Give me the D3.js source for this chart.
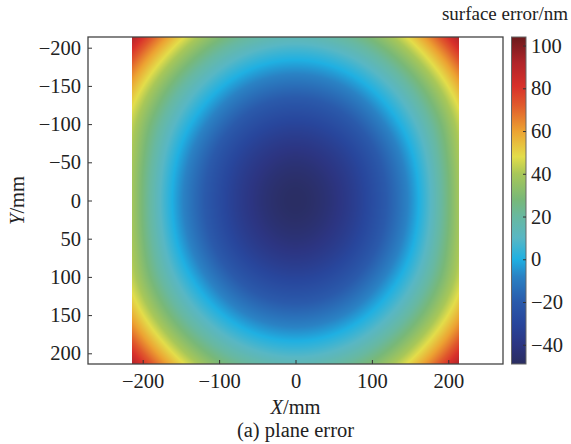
<!DOCTYPE html>
<html>
<head>
<meta charset="utf-8">
<script src="https://cdn.jsdelivr.net/npm/d3@7"></script>
<style>
  body { margin: 0; background: #fff; }
  text { font-family: "Liberation Serif", "Times New Roman", serif; fill: #222; }
</style>
</head>
<body>
<div id="chart"></div>
<script>
// sizes
var chart_width = 571;
var chart_height = 444;

var gridX = [-214, -160.5, -107, -53.5, 0, 53.5, 107, 160.5, 214];
var gridY = [-214, -160.5, -107, -53.5, 0, 53.5, 107, 160.5, 214];
// surface error at the grid points (nm), rows follow gridY
var surface = [
  [92, 56, 32, 19, 14.5, 19, 32, 56, 92],
  [62, 30, 8, -5.5, -10, -5.5, 8, 30, 62],
  [45, 13, -9.5, -24, -29, -24, -9.5, 13, 45],
  [40, 3, -21, -36.5, -42.5, -36.5, -21, 3, 40],
  [39, -0.5, -24.5, -41, -48, -41, -24.5, -0.5, 39],
  [40, 3, -21, -36.5, -42.5, -36.5, -21, 3, 40],
  [45, 13, -9.5, -24, -29, -24, -9.5, 13, 45],
  [62, 30, 8, -5.5, -10, -5.5, 8, 30, 62],
  [92, 56, 32, 19, 14.5, 19, 32, 56, 92]
];

var xTicks = [-200, -100, 0, 100, 200];
var yTicks = [-200, -150, -100, -50, 0, 50, 100, 150, 200];
var cbTicks = [-40, -20, 0, 20, 40, 60, 80, 100];
var cbRange = [-49, 104];

// colormap stops (value -> colour)
var cmapValues = [-49, -40, -30, -20, -8, 0, 10, 20, 28, 40, 48, 60, 72, 81, 92, 104];
var cmapColors = ['#2a2d60', '#2c3582', '#28469c', '#2a5aab', '#2a82c4', '#1fb0e2', '#58b7c4', '#68b8a0',
                  '#78b878', '#a8c758', '#e3dd4a', '#eca232', '#e05a2c', '#d8302a', '#b0252a', '#6b1a1c'];

var color = d3.scaleLinear().domain(cmapValues).range(cmapColors).clamp(true);

// plot box
var box = {left: 88, right: 503, top: 37, bottom: 364};
var half_y = 214;
var half_x = half_y * (box.right - box.left) / (box.bottom - box.top);

var x = d3.scaleLinear().domain([-half_x, half_x]).range([box.left, box.right]);
var y = d3.scaleLinear().domain([-half_y, half_y]).range([box.top, box.bottom]);

var svg = d3.select('#chart')
            .append('svg')
            .attr('width', chart_width)
            .attr('height', chart_height);

svg.append('rect')
   .attr('width', chart_width)
   .attr('height', chart_height)
   .attr('fill', '#fff');

// smooth (catmull-rom) lookup between the read points
function interp1(arr, u){
    var n = arr.length;
    function at(k){
        if(k < 0) return 3 * arr[0] - 3 * arr[1] + arr[2];
        if(k > n - 1) return 3 * arr[n - 1] - 3 * arr[n - 2] + arr[n - 3];
        return arr[k];
    }
    var i = Math.max(0, Math.min(n - 2, Math.floor(u)));
    var t = u - i;
    var p0 = at(i - 1), p1 = at(i), p2 = at(i + 1), p3 = at(i + 2);
    return 0.5 * ((2 * p1) + (-p0 + p2) * t + (2 * p0 - 5 * p1 + 4 * p2 - p3) * t * t +
                  (-p0 + 3 * p1 - 3 * p2 + p3) * t * t * t);
}

var gx = d3.scaleLinear().domain([gridX[0], gridX[gridX.length - 1]]).range([0, gridX.length - 1]);
var gy = d3.scaleLinear().domain([gridY[0], gridY[gridY.length - 1]]).range([0, gridY.length - 1]);

function valueAt(X, Y){
    var u = gx(X);
    var col = surface.map(function(row){ return interp1(row, u); });
    return interp1(col, gy(Y));
}

// draw the surface to a canvas and put it in the svg
var x0 = x(gridX[0]), x1 = x(gridX[gridX.length - 1]);
var y0 = y(gridY[0]), y1 = y(gridY[gridY.length - 1]);
var img_w = Math.round(x1 - x0), img_h = Math.round(y1 - y0);
var canvas = document.createElement('canvas');
canvas.width = img_w;
canvas.height = img_h;
var ctx = canvas.getContext('2d');
var imgData = ctx.createImageData(img_w, img_h);
for(var py = 0; py < img_h; py++){
    var Y = y.invert(y0 + py + 0.5);
    for(var px = 0; px < img_w; px++){
        var X = x.invert(x0 + px + 0.5);
        var c = d3.rgb(color(valueAt(X, Y)));
        var k = (py * img_w + px) * 4;
        imgData.data[k] = c.r;
        imgData.data[k + 1] = c.g;
        imgData.data[k + 2] = c.b;
        imgData.data[k + 3] = 255;
    }
}
ctx.putImageData(imgData, 0, 0);

svg.append('image')
   .attr('x', x0)
   .attr('y', y0)
   .attr('width', img_w)
   .attr('height', img_h)
   .attr('preserveAspectRatio', 'none')
   .attr('href', canvas.toDataURL());

// axes
var xAxis = d3.axisBottom(x).tickValues(xTicks).tickSizeInner(-4).tickSizeOuter(0).tickPadding(9);
var yAxis = d3.axisLeft(y).tickValues(yTicks).tickSizeInner(-4).tickSizeOuter(0).tickPadding(7);

var gX = svg.append('g').attr('transform', 'translate(0,' + box.bottom + ')').call(xAxis);
var gY = svg.append('g').attr('transform', 'translate(' + box.left + ',0)').call(yAxis);

[gX, gY].forEach(function(g){
    g.select('.domain').remove();
    g.selectAll('.tick line').attr('stroke', '#333').attr('stroke-width', 1);
    g.selectAll('.tick text')
     .style('font-family', '"Liberation Serif", serif')
     .style('font-size', '20.5px')
     .attr('fill', '#222');
});

svg.append('rect')
   .attr('x', box.left)
   .attr('y', box.top)
   .attr('width', box.right - box.left)
   .attr('height', box.bottom - box.top)
   .attr('fill', 'none')
   .attr('stroke', '#444')
   .attr('stroke-width', 1.3);

// colorbar
var cb = {left: 511.5, right: 526, top: 37, bottom: 364};
var cy = d3.scaleLinear().domain(cbRange).range([cb.bottom, cb.top]);

var grad = svg.append('defs').append('linearGradient')
   .attr('id', 'cbgrad')
   .attr('x1', 0).attr('y1', 1).attr('x2', 0).attr('y2', 0);
grad.selectAll('stop')
   .data(cmapValues)
   .enter()
   .append('stop')
   .attr('offset', function(d){ return (d - cbRange[0]) / (cbRange[1] - cbRange[0]); })
   .attr('stop-color', function(d, i){ return cmapColors[i]; });

svg.append('rect')
   .attr('x', cb.left)
   .attr('y', cb.top)
   .attr('width', cb.right - cb.left)
   .attr('height', cb.bottom - cb.top)
   .attr('fill', 'url(#cbgrad)')
   .attr('stroke', '#666')
   .attr('stroke-width', 1);

var cbAxis = d3.axisRight(cy).tickValues(cbTicks).tickSizeInner(-3).tickSizeOuter(0).tickPadding(5);
var gC = svg.append('g').attr('transform', 'translate(' + cb.right + ',0)').call(cbAxis);
gC.select('.domain').remove();
gC.selectAll('.tick line').attr('stroke', '#333');
gC.selectAll('.tick text')
  .style('font-family', '"Liberation Serif", serif')
  .style('font-size', '20.5px')
  .attr('fill', '#222');

// labels
var lx = svg.append('text')
   .attr('x', (box.left + box.right) / 2)
   .attr('y', 414)
   .attr('text-anchor', 'middle')
   .style('font-size', '20.5px');
lx.append('tspan').style('font-style', 'italic').text('X');
lx.append('tspan').text('/mm');

var ly = svg.append('text')
   .attr('transform', 'translate(24,' + ((box.top + box.bottom) / 2) + ') rotate(-90)')
   .attr('text-anchor', 'middle')
   .style('font-size', '20.5px');
ly.append('tspan').style('font-style', 'italic').text('Y');
ly.append('tspan').text('/mm');

svg.append('text')
   .attr('x', (box.left + box.right) / 2)
   .attr('y', 437)
   .attr('text-anchor', 'middle')
   .style('font-size', '20.5px')
   .text('(a) plane error');

svg.append('text')
   .attr('x', 568)
   .attr('y', 20)
   .attr('text-anchor', 'end')
   .style('font-size', '19px')
   .text('surface error/nm');
</script>
</body>
</html>
